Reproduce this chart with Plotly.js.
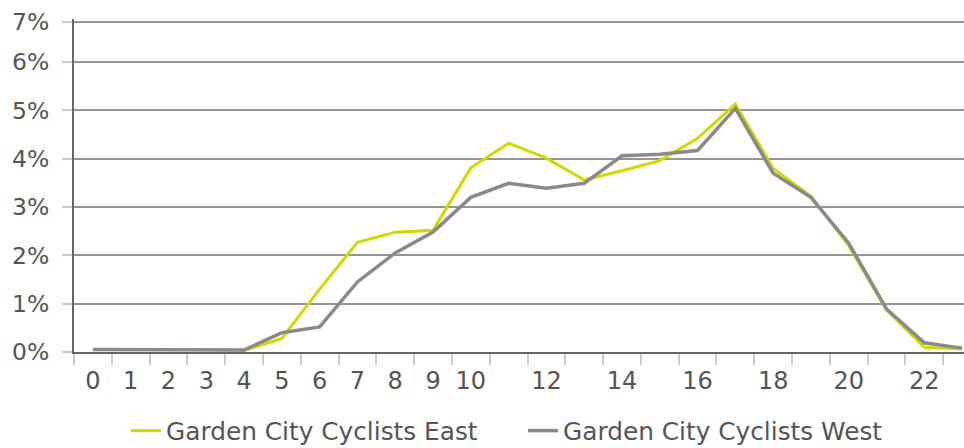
<!DOCTYPE html>
<html>
<head>
<meta charset="utf-8">
<script src="https://cdn.plot.ly/plotly-3.0.1.min.js"></script>
<style>html,body{margin:0;padding:0;background:#fff;}#chart{width:964px;height:448px;}</style>
</head>
<body>
<div id="chart"></div>
<script>
const hours = [0,1,2,3,4,5,6,7,8,9,10,11,12,13,14,15,16,17,18,19,20,21,22,23];
const eastShare = [0.05,0.05,0.05,0.05,0.03,0.28,1.3,2.27,2.48,2.52,3.81,4.32,4.01,3.56,3.75,3.96,4.42,5.13,3.8,3.22,2.2,0.87,0.1,0.06];
const westShare = [0.05,0.05,0.05,0.05,0.04,0.4,0.52,1.45,2.05,2.48,3.2,3.49,3.39,3.49,4.06,4.09,4.17,5.04,3.7,3.2,2.25,0.89,0.19,0.08];
const xTickVals = [0,1,2,3,4,5,6,7,8,9,10,12,14,16,18,20,22];
const xTickText = ["0","1","2","3","4","5","6","7","8","9","10","12","14","16","18","20","22"];
const yTickVals = [0,1,2,3,4,5,6,6.83];
const yTickText = ["0%","1%","2%","3%","4%","5%","6%","7%"];
const seriesNames = ["Garden City Cyclists East","Garden City Cyclists West"];

const boundaries = hours.map(h => h - 0.5).concat([23.5]);
const font = 'DejaVu Sans, Verdana, sans-serif';

const traces = [
  {x: hours, y: eastShare, name: seriesNames[0], type: 'scatter', mode: 'lines',
   line: {color: '#d2d900', width: 3}},
  {x: hours, y: westShare, name: seriesNames[1], type: 'scatter', mode: 'lines',
   line: {color: '#8a8a8a', width: 3.5}}
];

const layout = {
  width: 964, height: 448,
  margin: {l: 74, r: 0, t: 19, b: 96},
  paper_bgcolor: '#fff', plot_bgcolor: '#fff',
  font: {family: font, color: '#555', size: 24},
  showlegend: true,
  legend: {orientation: 'h', xref: 'container', x: 126 / 964, xanchor: 'left',
           yref: 'container', y: 17 / 448, yanchor: 'middle',
           entrywidth: 352, entrywidthmode: 'pixels',
           font: {size: 24.8, color: '#555', family: font}, tracegroupgap: 0},
  xaxis: {
    range: [-0.5, 23.05], tickmode: 'array', tickvals: xTickVals, ticktext: xTickText,
    ticks: '', showgrid: false, zeroline: false,
    showline: true, linecolor: '#666', linewidth: 2,
    tickfont: {size: 24, color: '#555', family: font},
    ticklabelstandoff: 6,
    minor: {tickmode: 'array', tickvals: boundaries, ticks: 'outside', ticklen: 11, tickwidth: 2, tickcolor: '#ccc', showgrid: false}
  },
  xaxis2: {
    overlaying: 'x', matches: 'x', anchor: 'y', side: 'bottom',
    tickmode: 'array', tickvals: boundaries, ticks: 'inside', ticklen: 10, tickwidth: 2, tickcolor: '#ccc',
    showticklabels: false, showgrid: false, zeroline: false, showline: false
  },
  yaxis: {
    range: [0, 6.89], tickmode: 'array', tickvals: yTickVals, ticktext: yTickText,
    ticks: 'outside', ticklen: 10, tickwidth: 2, tickcolor: '#ccc',
    showgrid: true, gridcolor: '#959595', gridwidth: 2,
    zeroline: false, showline: true, linecolor: '#666', linewidth: 2,
    tickfont: {size: 23.5, color: '#555', family: font}, ticklabelstandoff: 8
  }
};

Plotly.newPlot('chart', traces, layout, {displayModeBar: false, staticPlot: true});
</script>
</body>
</html>
